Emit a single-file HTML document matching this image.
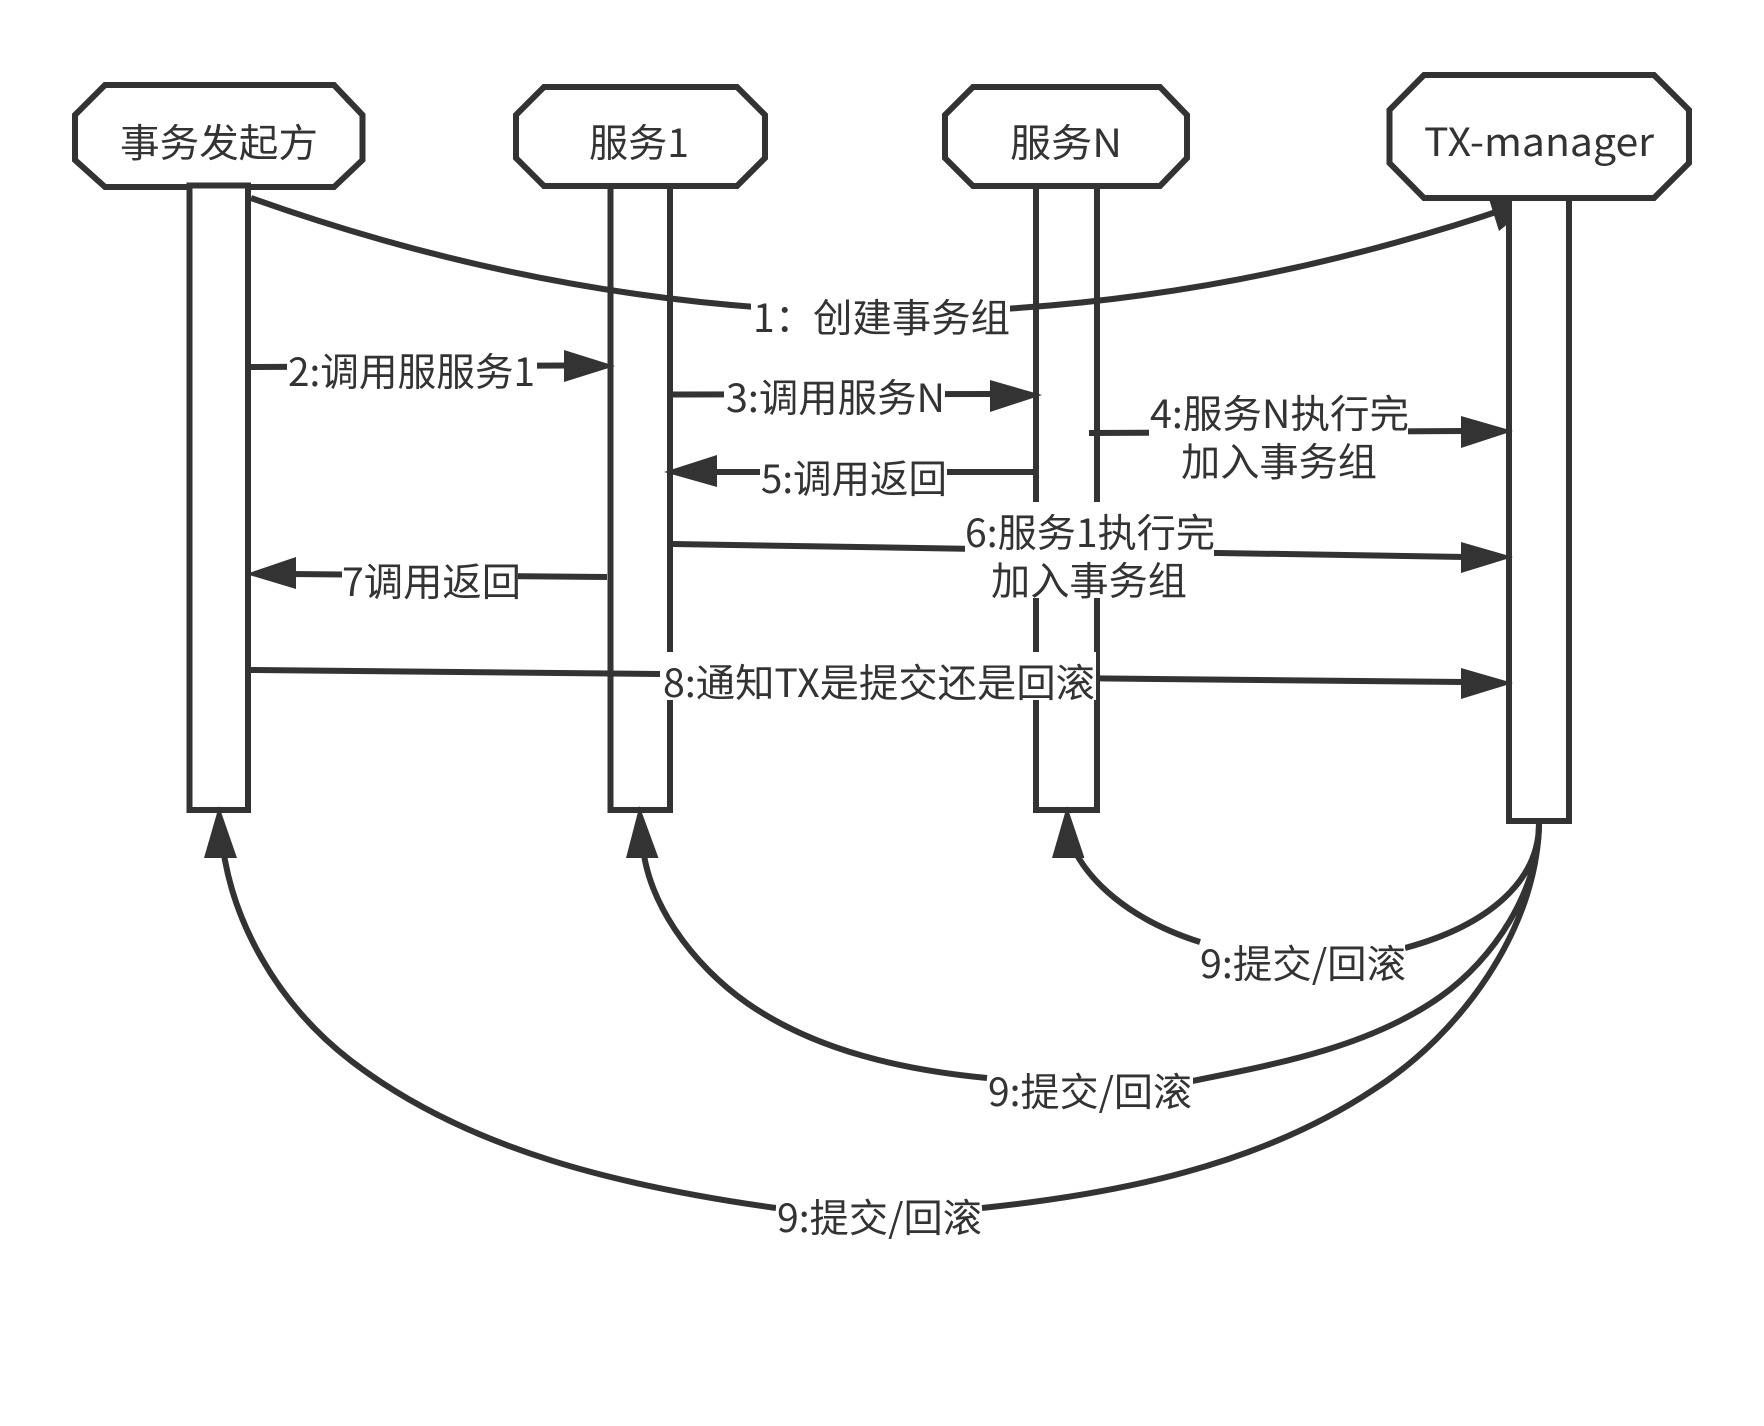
<!DOCTYPE html>
<html lang="zh">
<head>
<meta charset="utf-8">
<title>TX-manager</title>
<style>
html,body{margin:0;padding:0;background:#fff;}
svg{display:block;}
text{font-family:"Liberation Sans","Noto Sans CJK SC",sans-serif;font-size:39px;fill:#333;}
text.c{font-family:"Noto Sans CJK SC","Liberation Sans",sans-serif;}
.s{fill:none;stroke:#333;stroke-width:6;}
.b{fill:#fff;stroke:#333;stroke-width:6;}
.a{fill:#333;stroke:none;}
.w{fill:#fff;stroke:none;}
</style>
</head>
<body>
<svg width="1764" height="1426" viewBox="0 0 1764 1426" xmlns="http://www.w3.org/2000/svg">
<rect width="1764" height="1426" fill="#fff"/>

<!-- lifelines -->
<polygon class="b" points="105,85 334,85 362.5,115 362.5,160 334,187 105,187 75,160 75,115"/>
<rect class="b" x="189.5" y="185.5" width="58.5" height="624.5"/>
<rect class="b" x="610.5" y="170" width="59.5" height="640"/>
<rect class="b" x="1036" y="170" width="61" height="640"/>

<!-- arrow 1 (below TX lifeline) -->
<path class="s" d="M251,198 Q880,422 1511,207"/>
<polygon class="a" points="1489,199 1540,198 1499,231"/>

<rect class="b" x="1509" y="180" width="60" height="641"/>

<!-- headers -->
<polygon class="b" points="544,87 737,87 765,115 765,158 737,186 544,186 516,158 516,115"/>
<polygon class="b" points="973,87 1160,87 1187,115 1187,158 1160,186 973,186 945,158 945,115"/>
<polygon class="b" points="1424,75 1654,75 1689,110 1689,163 1654,198 1424,198 1389.5,163 1389.5,110"/>

<!-- straight arrows -->
<path class="s" d="M251,367 L570,365.5"/>
<polygon class="a" points="564,350 615,366 564,382"/>
<path class="s" d="M673,394.5 L995,394"/>
<polygon class="a" points="990,380 1042,395 990,412"/>
<path class="s" d="M710,472 L1034,472"/>
<polygon class="a" points="717,455 664,472 717,487"/>
<path class="s" d="M1089,433 L1465,431"/>
<polygon class="a" points="1461,416 1513,431 1461,448"/>
<path class="s" d="M673,544 L1465,557"/>
<polygon class="a" points="1461,542 1513,557 1461,573"/>
<path class="s" d="M290,574 L607,577"/>
<polygon class="a" points="296,557 246,574 296,589"/>
<path class="s" d="M251,670 L1465,682"/>
<polygon class="a" points="1461,668 1513,683 1461,699"/>

<!-- curved return arrows -->
<path class="s" d="M1539,824 C1539,880 1490,925 1405,948"/>
<path class="s" d="M1200,942 C1130,920 1085,880 1070,840"/>
<polygon class="a" points="1052,858 1067,806 1084.5,858"/>

<path class="s" d="M1192,1081 C1277,1064 1369,1047 1440,997 C1494,959 1539,890 1539,824"/>
<path class="s" d="M987,1078 C904,1070 816,1051 747,1003 C693,965 644,901 642,835"/>
<polygon class="a" points="626,858 639.5,806 658.5,858"/>

<path class="s" d="M982,1208 C1117,1194 1258,1166 1373,1090 C1461,1034 1537,929 1539,824"/>
<path class="s" d="M776,1208 C626,1187 468.5,1151.5 350,1060 C279,1005 228,920 221,830"/>
<polygon class="a" points="204,858 219,806 237,858"/>

<!-- label backings -->
<rect class="w" x="751" y="294" width="259" height="48"/>
<rect class="w" x="287" y="348" width="250" height="48"/>
<rect class="w" x="724" y="374" width="221" height="48"/>
<rect class="w" x="760" y="455" width="187" height="48"/>
<rect class="w" x="1149" y="394" width="259" height="92"/>
<rect class="w" x="965" y="502" width="249" height="96"/>
<rect class="w" x="342" y="558" width="176" height="48"/>
<rect class="w" x="660" y="652" width="436" height="48"/>
<rect class="w" x="1201" y="940" width="204" height="48"/>
<rect class="w" x="988" y="1068" width="205" height="48"/>
<rect class="w" x="776" y="1194" width="205" height="48"/>

<!-- labels -->
<text class="c" x="120" y="157" textLength="198" lengthAdjust="spacingAndGlyphs">事务发起方</text>
<text class="c" x="589" y="157" textLength="100" lengthAdjust="spacingAndGlyphs">服务1</text>
<text class="c" x="1010" y="157" textLength="112" lengthAdjust="spacingAndGlyphs">服务N</text>
<text class="c" x="1424" y="156" textLength="230" lengthAdjust="spacingAndGlyphs">TX-manager</text>

<text class="c" x="753" y="332">1</text>
<text class="c" x="775" y="332">：</text>
<text class="c" x="813" y="332" textLength="197" lengthAdjust="spacingAndGlyphs">创建事务组</text>
<text class="c" x="288" y="386" textLength="247" lengthAdjust="spacingAndGlyphs">2:调用服服务1</text>
<text class="c" x="726" y="412" textLength="219" lengthAdjust="spacingAndGlyphs">3:调用服务N</text>
<text class="c" x="1150" y="428" textLength="259" lengthAdjust="spacingAndGlyphs">4:服务N执行完</text>
<text class="c" x="1181" y="476" textLength="196" lengthAdjust="spacingAndGlyphs">加入事务组</text>
<text class="c" x="761" y="493" textLength="186" lengthAdjust="spacingAndGlyphs">5:调用返回</text>
<text class="c" x="965" y="547" textLength="250" lengthAdjust="spacingAndGlyphs">6:服务1执行完</text>
<text class="c" x="991" y="595" textLength="196" lengthAdjust="spacingAndGlyphs">加入事务组</text>
<text class="c" x="342" y="596" textLength="179" lengthAdjust="spacingAndGlyphs">7调用返回</text>
<text class="c" x="663" y="697" textLength="432" lengthAdjust="spacingAndGlyphs">8:通知TX是提交还是回滚</text>
<text class="c" x="1200" y="978" textLength="206" lengthAdjust="spacingAndGlyphs">9:提交/回滚</text>
<text class="c" x="988" y="1106" textLength="204" lengthAdjust="spacingAndGlyphs">9:提交/回滚</text>
<text class="c" x="777" y="1232" textLength="205" lengthAdjust="spacingAndGlyphs">9:提交/回滚</text>
</svg>
</body>
</html>
